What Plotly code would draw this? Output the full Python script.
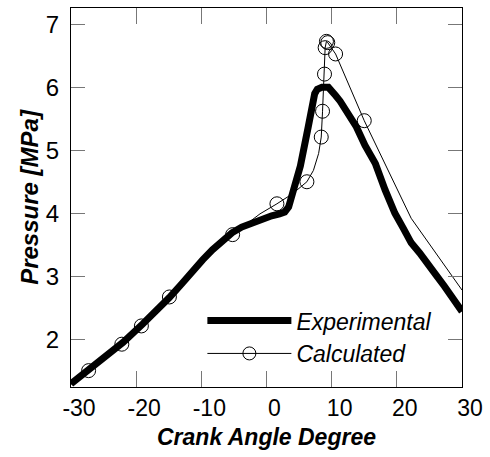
import plotly.graph_objects as go

# Experimental pressure trace (crank angle deg, MPa)
exp_angle = [-30, -27.4, -25, -22, -19, -16.8, -14.9, -13, -11.4, -9.8, -8.3, -6.8, -5.3, -3.8, -2.2, -0.7,
             0.8, 2.0, 2.8, 3.4, 4.2, 5.2, 6.4, 7.0, 7.4, 7.8, 8.5, 9.5, 10.0, 10.6, 11.3, 12.3, 13.8, 15.1, 16.7,
             18.2, 19.7, 21.0, 22.2, 23.5, 24.8, 26.0, 27.3, 28.6, 30]
exp_pressure = [1.29, 1.50, 1.70, 1.95, 2.24, 2.46, 2.66, 2.88, 3.08, 3.26, 3.42, 3.57, 3.69, 3.78, 3.85, 3.91,
                3.96, 3.99, 4.02, 4.10, 4.35, 4.75, 5.37, 5.74, 5.90, 5.97, 6.00, 6.00, 5.95, 5.87, 5.78, 5.63, 5.37, 5.08, 4.79,
                4.37, 4.00, 3.76, 3.53, 3.37, 3.21, 3.02, 2.84, 2.63, 2.44]

# Calculated pressure line path
calc_line_angle = [-30, -27.3, -25, -22.2, -19.2, -17, -14.9, -12, -9, -7, -5.2, -3, -1, 1.6, 4.0, 6.2,
                   7.2, 8.0, 8.4, 8.6, 8.9, 9.0, 9.2, 9.4, 10.6, 15.0, 22.2, 30]
calc_line_pressure = [1.28, 1.50, 1.69, 1.92, 2.21, 2.44, 2.67, 2.99, 3.30, 3.50, 3.66, 3.84, 3.99, 4.15, 4.31, 4.50,
                      4.68, 4.95, 5.21, 5.62, 6.21, 6.63, 6.73, 6.71, 6.53, 5.47, 3.92, 2.78]

# Calculated points shown with open circles
calc_marker_angle = [-27.3, -22.2, -19.2, -14.9, -5.2, 1.6, 6.2, 8.4, 8.6, 8.9, 9.0, 9.2, 9.4, 10.6, 15.0]
calc_marker_pressure = [1.50, 1.92, 2.21, 2.67, 3.66, 4.15, 4.50, 5.21, 5.62, 6.21, 6.63, 6.73, 6.71, 6.53, 5.47]

x_ticks = [-30, -20, -10, 0, 10, 20, 30]
x_tick_labels = ["-30", "-20", "-10", "0", "10", "20", "30"]
y_ticks = [2, 3, 4, 5, 6, 7]
y_tick_labels = ["2", "3", "4", "5", "6", "7"]

FONT = "Liberation Sans, Arial, sans-serif"

fig = go.Figure()
fig.add_trace(go.Scatter(x=exp_angle, y=exp_pressure, mode="lines", name="Experimental",
                         line=dict(color="black", width=7)))
fig.add_trace(go.Scatter(x=calc_line_angle, y=calc_line_pressure, mode="lines", showlegend=False,
                         line=dict(color="black", width=1)))
fig.add_trace(go.Scatter(x=calc_marker_angle, y=calc_marker_pressure, mode="markers", showlegend=False,
                         marker=dict(symbol="circle-open", size=14, color="black", line=dict(width=1))))
fig.add_trace(go.Scatter(x=[None], y=[None], mode="lines+markers", name="Calculated",
                         line=dict(color="black", width=1),
                         marker=dict(symbol="circle-open", size=13, color="black", line=dict(width=1))))

axis_common = dict(showline=True, linecolor="black", linewidth=1, mirror="ticks",
                   ticks="inside", tickcolor="#777777", tickwidth=1,
                   showgrid=False, zeroline=False)

fig.update_xaxes(range=[-30, 30], tickvals=x_ticks, ticktext=x_tick_labels, ticklen=16, ticklabelshift=8,
                 tickfont=dict(family=FONT, size=23, color="black"),
                 title=dict(text="<b><i>Crank Angle Degree</i></b>", font=dict(family=FONT, size=23, color="black"),
                            standoff=9),
                 **axis_common)
fig.update_yaxes(range=[1.24, 7.26], tickvals=y_ticks, ticktext=y_tick_labels, ticklen=14, ticklabelstandoff=6,
                 tickfont=dict(family=FONT, size=24, color="black"),
                 title=dict(text="<b><i>Pressure [MPa]</i></b>", font=dict(family=FONT, size=24, color="black"),
                            standoff=0),
                 **axis_common)

fig.update_layout(
    width=490, height=457,
    margin=dict(l=71, r=26, t=7, b=70),
    paper_bgcolor="white", plot_bgcolor="white",
    showlegend=True,
    legend=dict(x=0.336, y=0.232, xanchor="left", yanchor="top",
                bgcolor="rgba(0,0,0,0)", borderwidth=0, itemwidth=84,
                font=dict(family=FONT, size=23, color="black", style="italic"), tracegroupgap=0),
)

fig.write_html("out.html")
